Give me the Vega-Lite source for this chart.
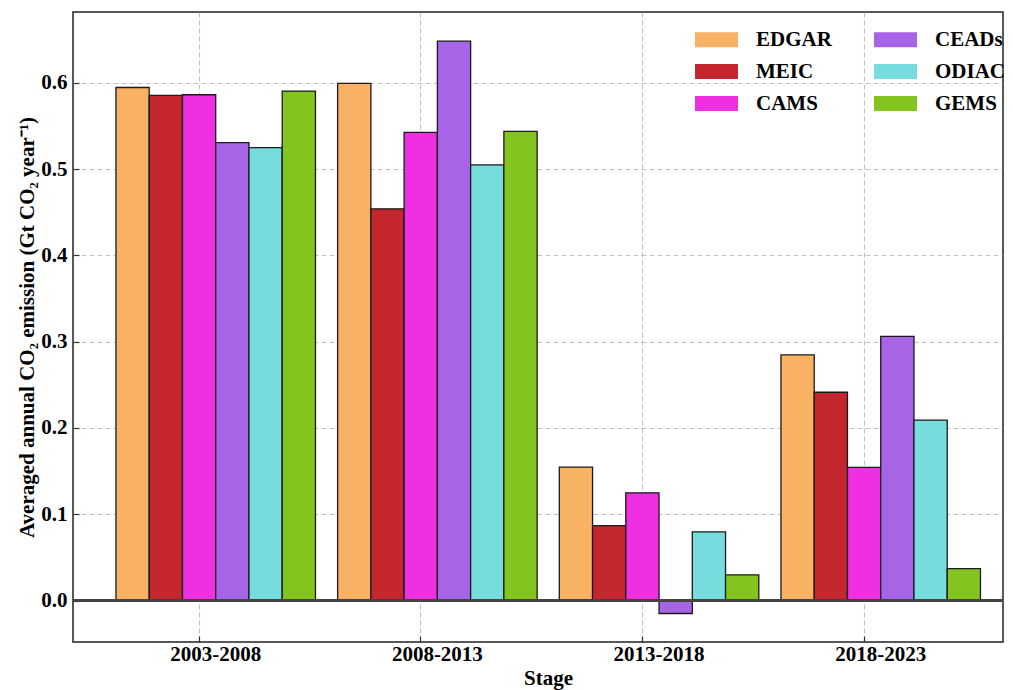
{
  "$schema": "https://vega.github.io/schema/vega-lite/v6.json",
  "width": 930,
  "height": 630,
  "autosize": {"type": "none"},
  "padding": {"left": 73, "top": 12, "right": 10, "bottom": 48},
  "background": "white",
  "config": {
    "view": {"stroke": "#222222", "strokeWidth": 1.5},
    "font": "Liberation Serif",
    "axis": {
      "labelFont": "Liberation Serif",
      "labelFontWeight": "bold",
      "labelFontSize": 21,
      "labelColor": "#000000",
      "titleFont": "Liberation Serif",
      "titleFontWeight": "bold",
      "titleFontSize": 21,
      "titleColor": "#000000",
      "domain": false,
      "tickColor": "#333333",
      "tickSize": -6,
      "tickWidth": 1.2,
      "grid": true,
      "gridColor": "#9a9a9a",
      "gridOpacity": 0.6,
      "gridDash": [5, 3],
      "gridWidth": 1.1,
      "zindex": 1
    }
  },
  "data": {
    "values": [
      {"stage": "2003-2008", "dataset": "EDGAR", "value": 0.5945},
      {"stage": "2003-2008", "dataset": "MEIC", "value": 0.5853},
      {"stage": "2003-2008", "dataset": "CAMS", "value": 0.5861},
      {"stage": "2003-2008", "dataset": "CEADs", "value": 0.5306},
      {"stage": "2003-2008", "dataset": "ODIAC", "value": 0.5248},
      {"stage": "2003-2008", "dataset": "GEMS", "value": 0.5904},
      {"stage": "2008-2013", "dataset": "EDGAR", "value": 0.5992},
      {"stage": "2008-2013", "dataset": "MEIC", "value": 0.4539},
      {"stage": "2008-2013", "dataset": "CAMS", "value": 0.5425},
      {"stage": "2008-2013", "dataset": "CEADs", "value": 0.6482},
      {"stage": "2008-2013", "dataset": "ODIAC", "value": 0.5048},
      {"stage": "2008-2013", "dataset": "GEMS", "value": 0.5437},
      {"stage": "2013-2018", "dataset": "EDGAR", "value": 0.1547},
      {"stage": "2013-2018", "dataset": "MEIC", "value": 0.0868},
      {"stage": "2013-2018", "dataset": "CAMS", "value": 0.1249},
      {"stage": "2013-2018", "dataset": "CEADs", "value": -0.015},
      {"stage": "2013-2018", "dataset": "ODIAC", "value": 0.0795},
      {"stage": "2013-2018", "dataset": "GEMS", "value": 0.0297},
      {"stage": "2018-2023", "dataset": "EDGAR", "value": 0.2846},
      {"stage": "2018-2023", "dataset": "MEIC", "value": 0.2414},
      {"stage": "2018-2023", "dataset": "CAMS", "value": 0.1543},
      {"stage": "2018-2023", "dataset": "CEADs", "value": 0.3062},
      {"stage": "2018-2023", "dataset": "ODIAC", "value": 0.209},
      {"stage": "2018-2023", "dataset": "GEMS", "value": 0.037}
    ]
  },
  "layer": [
    {
      "mark": {"type": "bar", "stroke": "#1a1a1a", "strokeWidth": 1.3},
      "encoding": {
        "x": {
          "field": "stage",
          "type": "nominal",
          "sort": ["2003-2008", "2008-2013", "2013-2018", "2018-2023"],
          "scale": {"type": "band", "paddingInner": 0.1, "paddingOuter": 0.1477, "align": 0.656},
          "axis": {
            "title": "Stage",
            "labelAngle": 0,
            "bandPosition": 0.41667,
            "labelPadding": 7,
            "titleBaseline": "alphabetic",
            "titleX": 475,
            "titleY": 42
          }
        },
        "xOffset": {
          "field": "dataset",
          "type": "nominal",
          "sort": ["EDGAR", "MEIC", "CAMS", "CEADs", "ODIAC", "GEMS"],
          "scale": {"paddingInner": 0, "paddingOuter": 0}
        },
        "y": {
          "field": "value",
          "type": "quantitative",
          "scale": {"domain": [-0.048, 0.682], "nice": false, "zero": false},
          "axis": {
            "title": "Averaged annual CO₂ emission (Gt CO₂ year⁻¹)",
            "values": [0, 0.1, 0.2, 0.3, 0.4, 0.5, 0.6],
            "format": ".1f",
            "labelPadding": 12,
            "titleBaseline": "alphabetic",
            "titleX": -40
          }
        },
        "color": {
          "field": "dataset",
          "type": "nominal",
          "scale": {
            "domain": ["EDGAR", "MEIC", "CAMS", "CEADs", "ODIAC", "GEMS"],
            "range": ["#F9B164", "#C4262D", "#EE2FE2", "#A864E6", "#76DCDD", "#83C41E"]
          },
          "legend": {
            "title": null,
            "orient": "none",
            "legendX": 622,
            "legendY": 6,
            "columns": 2,
            "padding": 0,
            "symbolType": "M-1,-0.349H1V0.349H-1Z",
            "symbolSize": 1849,
            "symbolStrokeWidth": 0,
            "symbolOpacity": 1,
            "labelFont": "Liberation Serif",
            "labelFontWeight": "bold",
            "labelFontSize": 21,
            "labelColor": "#000000",
            "labelOffset": 18,
            "columnPadding": 42,
            "rowPadding": -6,
            "encode": {
              "symbols": {"update": {"stroke": {"value": "transparent"}, "strokeWidth": {"value": 0}}}
            }
          }
        }
      }
    },
    {
      "mark": {"type": "rule", "color": "#444444", "strokeWidth": 1.5},
      "encoding": {"y": {"datum": 0}}
    }
  ]
}
